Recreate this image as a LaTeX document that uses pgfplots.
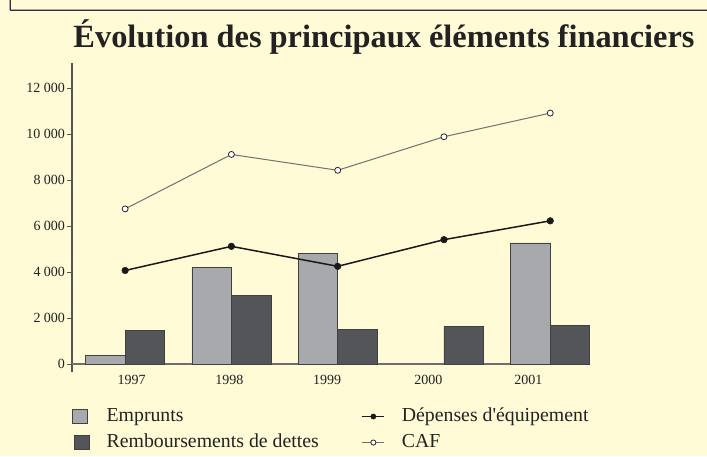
\documentclass[border=0pt]{standalone}
\usepackage{pgfplots}
\pgfplotsset{compat=1.18}
\usepackage{fontspec}
\setmainfont{Liberation Serif}[Ligatures=TeXOff]
\definecolor{bg}{RGB}{255,251,214}
\definecolor{empr}{RGB}{168,169,173}
\definecolor{remb}{RGB}{84,85,89}
\definecolor{cafline}{RGB}{112,112,112}
\definecolor{axisc}{RGB}{85,85,85}
\definecolor{txt}{RGB}{34,34,34}
\pgfplotsset{
  barlegA/.style={legend image code/.code={\draw[##1] (0pt,-7pt) rectangle (15pt,7pt);}},
  barlegB/.style={legend image code/.code={\draw[##1] (2pt,-7pt) rectangle (17pt,7pt);}},
  lineleg/.style={legend image code/.code={\draw[mark repeat=2,mark phase=2,##1, mark size=2.6pt, line width=1pt] plot coordinates {(0pt,0pt) (11pt,0pt) (22pt,0pt)};}},
}
\begin{document}
\begin{tikzpicture}[x=1pt,y=1pt]
\useasboundingbox (0,0) rectangle (707,456);
\fill[bg] (0,0) rectangle (707,456);
\draw[black!35, line width=1pt] (9,456) -- (9,446.5) -- (707,446.5);
\draw[black!80, line width=1.4pt] (10.3,456) -- (10.3,445.2) -- (707,445.2);
\node[anchor=base, font=\fontsize{32.4}{38}\selectfont\bfseries, text=txt, inner sep=0pt] at (384,408) {Évolution des principaux éléments financiers};
\begin{axis}[
  at={(72pt,84pt)}, anchor=south west, scale only axis,
  width=515pt, height=309pt,
  xmin=-0.5, xmax=4.346, ymin=-350, ymax=13100,
  axis y line=left, axis x line=bottom,
  x axis line style={draw=none},
  y axis line style={-, draw=axisc, line width=1.3pt},
  scaled y ticks=false, scaled x ticks=false,
  xtick={0.060,0.980,1.901,2.853,3.794},
  xticklabels={1997,1998,1999,2000,2001},
  xtick style={draw=none},
  ytick={0,2000,4000,6000,8000,10000,12000},
  yticklabels={0,2 000,4 000,6 000,8 000,10 000,12 000},
  ytick style={draw=axisc, line width=0.8pt},
  tick align=outside, major tick length=5pt,
  ticklabel style={font=\fontsize{14}{16}\selectfont, text=txt},
  yticklabel style={inner sep=0pt, xshift=-1.8pt},
  xticklabel style={inner sep=0pt, yshift=2pt},
  extra y ticks={0}, extra y tick labels={},
  extra y tick style={grid=major, major grid style={draw=axisc!85, line width=1.6pt}, tick style={draw=none}},
  clip=false,
  legend columns=2, transpose legend, legend cell align=left,
  legend style={at={(0,-0.115)}, anchor=north west, draw=none, fill=none,
    inner sep=0pt, outer sep=0pt, font=\fontsize{19.8}{24}\selectfont, text=txt,
    nodes={inner xsep=0pt, inner ysep=0pt, text height=14pt, text depth=4pt},
    row sep=8pt,
    /tikz/every odd column/.append style={column sep=17pt},
    /tikz/every even column/.append style={column sep=43pt}},
]
\addplot[ybar, bar width=0.372, bar shift=-0.186, fill=empr, draw=black!75, line width=0.6pt, barlegA]
  coordinates {(0,380) (1,4220) (2,4800) (4,5270)};
\addlegendentry{Emprunts}
\addplot[ybar, bar width=0.372, bar shift=0.186, fill=remb, draw=black!75, line width=0.6pt, barlegB]
  coordinates {(0,1450) (1,3000) (2,1500) (3,1620) (4,1670)};
\addlegendentry{Remboursements de dettes}
\addplot[color=black!90, line width=1.5pt, mark=*, mark size=3.3pt, mark options={fill=black!90, draw=black!90, line width=0.5pt}, lineleg]
  coordinates {(0,4070) (1,5120) (2,4250) (3,5410) (4,6230)};
\addlegendentry{Dépenses d'équipement}
\addplot[color=cafline, line width=1pt, mark=*, mark size=3pt, mark options={fill=white, draw=black!85, line width=0.8pt}, lineleg]
  coordinates {(0,6750) (1,9120) (2,8430) (3,9890) (4,10920)};
\addlegendentry{CAF}
\end{axis}
\end{tikzpicture}
\end{document}
